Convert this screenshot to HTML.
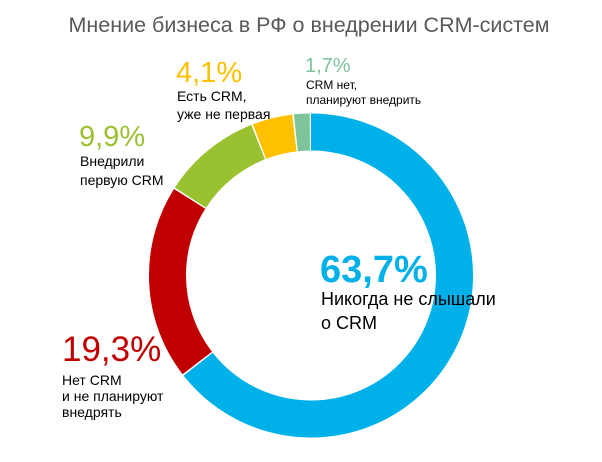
<!DOCTYPE html>
<html><head><meta charset="utf-8"><style>
body{margin:0;background:#fff;width:602px;height:457px;overflow:hidden}
text{font-family:"Liberation Sans",sans-serif}
</style></head><body>
<svg width="602" height="457" viewBox="0 0 602 457">
<text x="309" y="32" text-anchor="middle" font-size="21.5" fill="#595959">Мнение бизнеса в РФ о внедрении CRM-систем</text>
<g transform="rotate(-90 311 275.5)" fill="none" stroke-width="37">
<circle cx="311" cy="275.5" r="143.5" stroke="#00B0E8" stroke-dasharray="580.4 1000" stroke-dashoffset="0"/>
<circle cx="311" cy="275.5" r="143.5" stroke="#C00000" stroke-dasharray="174.8 1000" stroke-dashoffset="-581.9"/>
<circle cx="311" cy="275.5" r="143.5" stroke="#9AC230" stroke-dasharray="88.9 1000" stroke-dashoffset="-758.2"/>
<circle cx="311" cy="275.5" r="143.5" stroke="#FFC000" stroke-dasharray="36 1000" stroke-dashoffset="-848.6"/>
<circle cx="311" cy="275.5" r="143.5" stroke="#7DC49A" stroke-dasharray="14 1000" stroke-dashoffset="-886.1"/>
</g>
<text x="320" y="282" font-size="38" font-weight="bold" fill="#00B0E8">63,7%</text>
<text x="321" y="305" font-size="18" fill="#000">Никогда не слышали</text>
<text x="321" y="329" font-size="18" fill="#000">о CRM</text>
<text x="62" y="361" font-size="35" fill="#C00000">19,3%</text>
<text x="62" y="385" font-size="14" fill="#000">Нет CRM</text>
<text x="62" y="401" font-size="14" fill="#000">и не планируют</text>
<text x="62" y="417" font-size="14" fill="#000">внедрять</text>
<text x="79" y="146" font-size="29" fill="#9AC230">9,9%</text>
<text x="80" y="166" font-size="14" fill="#000">Внедрили</text>
<text x="80" y="185" font-size="14" fill="#000">первую CRM</text>
<text x="176" y="82" font-size="29" fill="#FFC000">4,1%</text>
<text x="177" y="101" font-size="14" fill="#000">Есть CRM,</text>
<text x="177" y="119" font-size="14" fill="#000">уже не первая</text>
<text x="305" y="72" font-size="20" fill="#7DC49A">1,7%</text>
<text x="306" y="89" font-size="12" fill="#000">CRM нет,</text>
<text x="306" y="104" font-size="12" fill="#000">планируют внедрить</text>
</svg>
</body></html>
